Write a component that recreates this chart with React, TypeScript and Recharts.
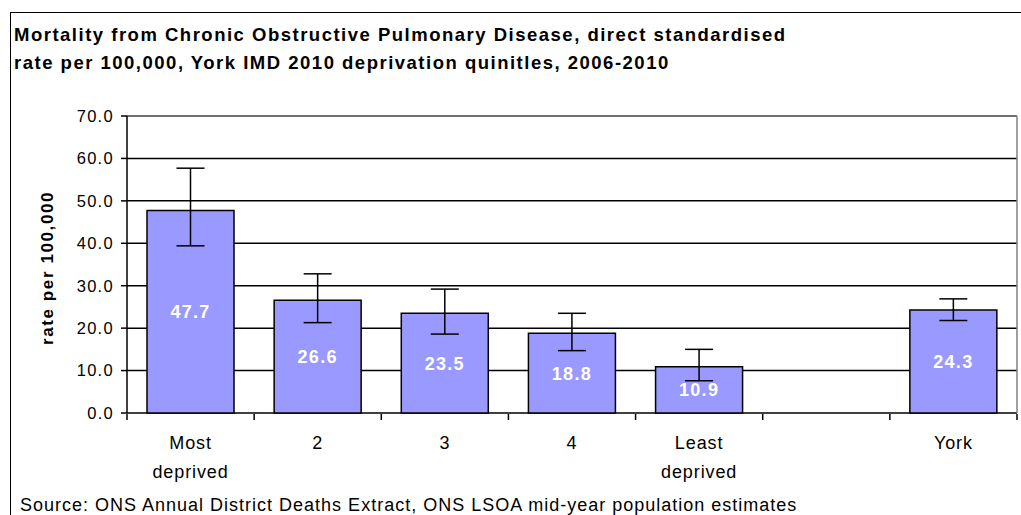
import {
  BarChart,
  Bar,
  XAxis,
  YAxis,
  CartesianGrid,
  ReferenceLine,
  ErrorBar,
  LabelList,
} from "recharts";

const categories = ["Most deprived", "2", "3", "4", "Least deprived", "", "York"];
const rates = [47.7, 26.6, 23.5, 18.8, 10.9, null, 24.3];
const lowerCI = [39.4, 21.3, 18.6, 14.7, 7.6, null, 21.8];
const upperCI = [57.7, 32.8, 29.2, 23.5, 15.0, null, 26.9];
const yTicks = [0, 10, 20, 30, 40, 50, 60, 70];
const edgeTicks = [0, 1, 2, 3, 4, 5, 6, 7];

const data = categories.map((name, i) => {
  const r = rates[i];
  const lo = lowerCI[i];
  const hi = upperCI[i];
  return {
    name,
    pos: i + 0.5,
    rate: r,
    ci: r == null || lo == null || hi == null ? undefined : [r - lo, hi - r],
  };
});

const FONT = '"Liberation Sans", Arial, sans-serif';

function CategoryTick({ x, y, payload }: any) {
  const lines = String(payload.value).split(" ");
  return (
    <text
      x={x}
      y={y}
      textAnchor="middle"
      fontSize={18}
      letterSpacing={0.9}
      fill="#000"
      fontFamily={FONT}
    >
      {lines.map((l, i) => (
        <tspan key={i} x={x} dy={i === 0 ? 36 : 29}>
          {l}
        </tspan>
      ))}
    </text>
  );
}

function EmptyTick() {
  return <g />;
}

export default function App() {
  return (
    <div
      style={{
        position: "absolute",
        left: 0,
        top: 0,
        width: 1021,
        height: 515,
        overflow: "hidden",
        background: "#fff",
        fontFamily: FONT,
        color: "#000",
      }}
    >
      <div
        style={{
          position: "absolute",
          left: 10,
          top: 12,
          width: 1100,
          height: 600,
          border: "1.5px solid #000",
        }}
      />
      <div
        style={{
          position: "absolute",
          left: 14,
          top: 21,
          fontSize: 18.5,
          lineHeight: "28px",
          letterSpacing: 1.5,
          fontWeight: "bold",
          whiteSpace: "nowrap",
        }}
      >
        <div>Mortality from Chronic Obstructive Pulmonary Disease, direct standardised</div>
        <div>rate per 100,000, York IMD 2010 deprivation quinitles, 2006-2010</div>
      </div>
      <div
        style={{
          position: "absolute",
          left: 48,
          top: 268,
          transform: "translate(-50%, -50%) rotate(-90deg)",
          fontSize: 17,
          letterSpacing: 1.6,
          fontWeight: "bold",
          whiteSpace: "nowrap",
        }}
      >
        rate per 100,000
      </div>
      <div style={{ position: "absolute", left: 0, top: 0 }}>
        <BarChart
          width={1021}
          height={515}
          data={data}
          margin={{ top: 116, right: 4, bottom: 42, left: 67 }}
          barCategoryGap={20}
        >
          <CartesianGrid
            xAxisId="cat"
            vertical={false}
            stroke="#000"
            strokeWidth={1.5}
          />
          <XAxis
            xAxisId="edges"
            type="number"
            dataKey="pos"
            domain={[0, 7]}
            ticks={edgeTicks}
            interval={0}
            tick={<EmptyTick />}
            height={59}
            tickSize={6}
            axisLine={false}
            tickLine={{ stroke: "#000", strokeWidth: 1.5 }}
          />
          <XAxis
            xAxisId="cat"
            dataKey="name"
            height={1}
            axisLine={false}
            tickLine={false}
            tickSize={0}
            tickMargin={0}
            interval={0}
            tick={<CategoryTick />}
          />
          <YAxis
            domain={[0, 70]}
            ticks={yTicks}
            width={60}
            tickSize={6}
            tickMargin={7}
            tickFormatter={(v: number) => v.toFixed(1)}
            tick={{ fontSize: 16.5, fill: "#000", fontFamily: FONT, letterSpacing: 1.3 }}
            axisLine={{ stroke: "#000", strokeWidth: 1.5 }}
            tickLine={{ stroke: "#000", strokeWidth: 1.5 }}
          />
          <ReferenceLine xAxisId="cat" y={70} stroke="#808080" strokeWidth={1.5} />
          <ReferenceLine xAxisId="edges" x={7} stroke="#808080" strokeWidth={1.5} />
          <Bar
            xAxisId="cat"
            dataKey="rate"
            fill="#9999FF"
            stroke="#000"
            strokeWidth={1.5}
            isAnimationActive={false}
          >
            <ErrorBar dataKey="ci" width={14} stroke="#000" strokeWidth={1.5} />
            <LabelList
              dataKey="rate"
              position="center"
              fill="#fff"
              fontSize={18}
              fontWeight="bold"
              letterSpacing={1.3}
              fontFamily={FONT}
              formatter={(v: any) => (v == null ? "" : Number(v).toFixed(1))}
            />
          </Bar>
        </BarChart>
      </div>
      <div
        style={{
          position: "absolute",
          left: 20,
          top: 496,
          fontSize: 18,
          lineHeight: "18px",
          letterSpacing: 1,
          whiteSpace: "nowrap",
        }}
      >
        Source: ONS Annual District Deaths Extract, ONS LSOA mid-year population estimates
      </div>
    </div>
  );
}
